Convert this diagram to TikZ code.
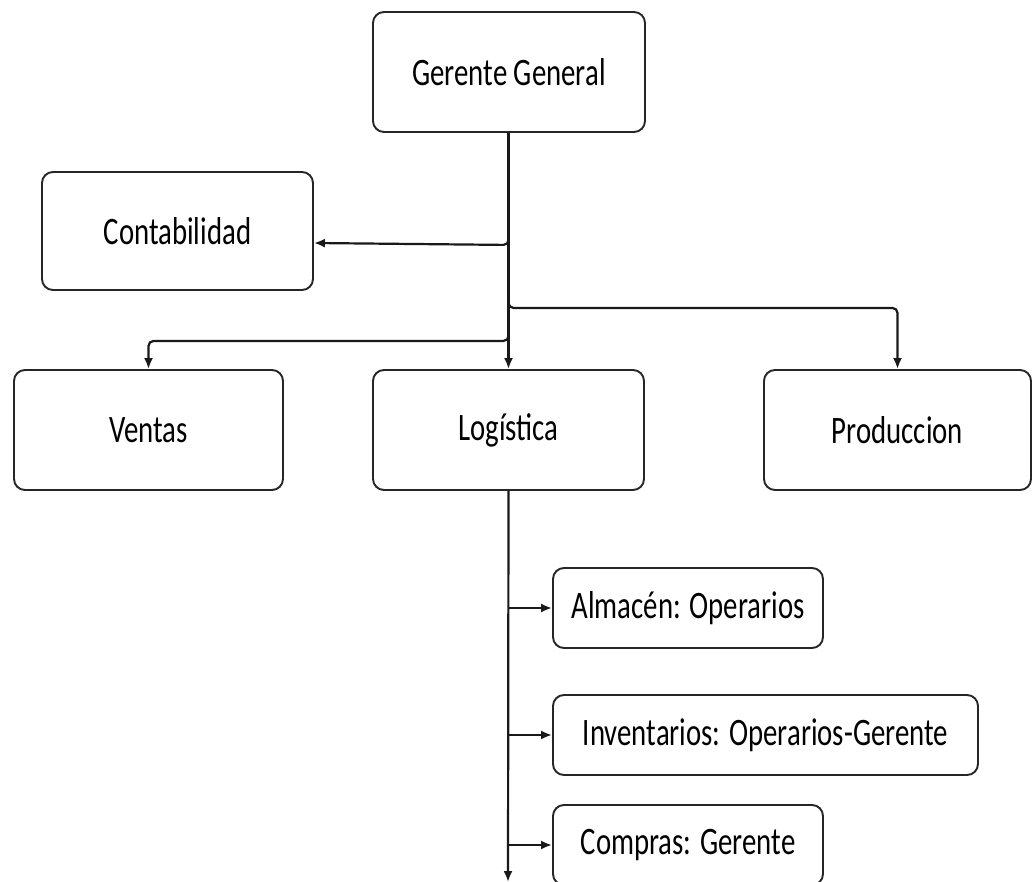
\documentclass[tikz,border=0pt]{standalone}
\usepackage{fontspec}
\setmainfont{Carlito}
\usetikzlibrary{arrows.meta}
\newcommand{\tallbox}[1]{\scalebox{1}[1.35]{#1}}
\tikzset{
  unit/.style={rounded corners=11pt, draw=black!85, line width=1.9pt, fill=white,
    inner sep=0pt, font=\fontsize{28.8}{34}\selectfont},
  link/.style={line width=2.2pt, draw=black!90, rounded corners=5pt,
    -{Latex[length=11pt,width=9pt]}}
}
\begin{document}
\begin{tikzpicture}[x=1pt,y=-1pt]
\useasboundingbox (0,0) rectangle (1033,882);
\clip (0,0) rectangle (1033,882);
% top level
\node[unit, minimum width=272pt, minimum height=120pt] (gg) at (509,72) {\tallbox{Gerente General}};
\node[unit, minimum width=271pt, minimum height=118pt] (cont) at (177.5,231) {\tallbox{Contabilidad}};
% departments
\node[unit, minimum width=269pt, minimum height=120pt] (ven) at (148.5,430) {\tallbox{Ventas}};
\node[unit, minimum width=271pt, minimum height=120pt] (log) at (508.5,430) {\tallbox{Logística}};
\node[unit, minimum width=267pt, minimum height=120pt] (prod) at (897.5,430) {\tallbox{Produccion}};
% logistics sections
\node[unit, minimum width=270pt, minimum height=80pt] (alm) at (688,608) {\tallbox{Almacén: Operarios}};
\node[unit, minimum width=425pt, minimum height=80pt] (inv) at (765.5,735) {\tallbox{Inventarios: Operarios-Gerente}};
\node[unit, minimum width=270pt, minimum height=80pt] (comp) at (688,845) {\tallbox{Compras: Gerente}};
% connection points
\coordinate (end) at (508,882);
% main trunk from the general manager
\draw[link, rounded corners=0pt] (gg.south -| log.north) -- (log.north);
\draw[link] (gg.south -| log.north) ++(0,90) -- ++(0,22) -- (cont.east |- 0,243);
\draw[link] (gg.south -| log.north) ++(0,160) -- ++(0,15) -| (prod.north);
\draw[link] (gg.south -| log.north) ++(0,196) -- ++(0,12) -| (ven.north);
% logistics trunk
\draw[link] (log.south) -- (end);
\draw[link] (log.south |- alm.west) -- (alm.west);
\draw[link] (log.south |- inv.west) -- (inv.west);
\draw[link] (log.south |- comp.west) -- (comp.west);
\end{tikzpicture}
\end{document}
